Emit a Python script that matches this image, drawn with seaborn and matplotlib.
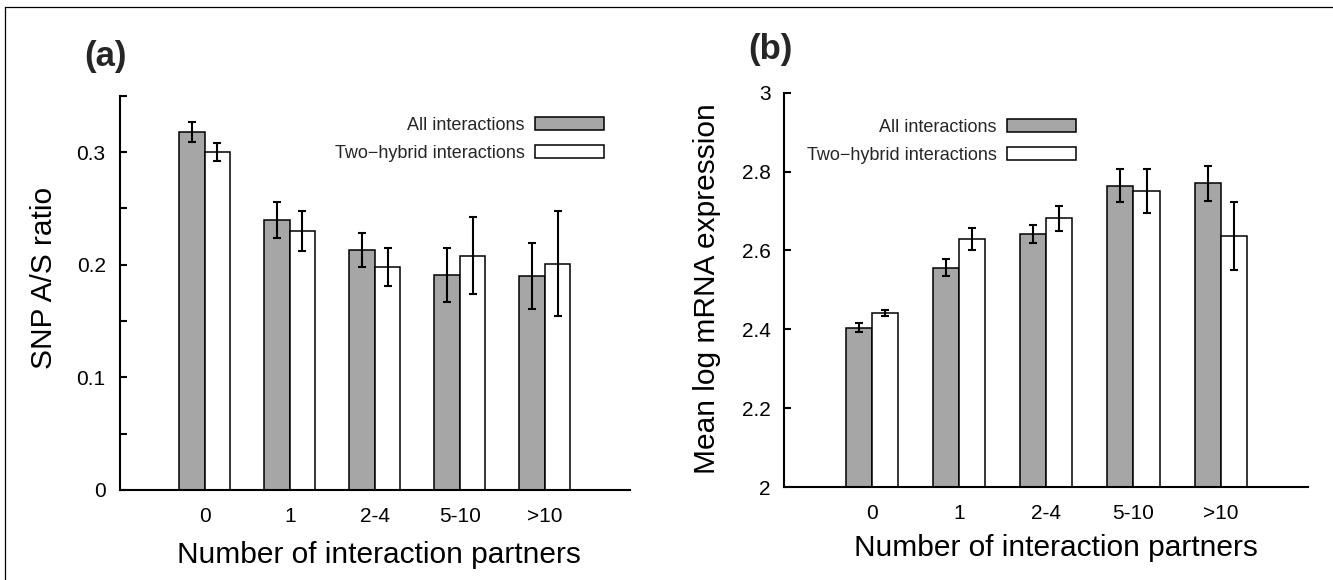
import numpy as np
import pandas as pd
import matplotlib
matplotlib.use("Agg")
import matplotlib.pyplot as plt
from matplotlib.patches import Patch
from matplotlib.lines import Line2D
from matplotlib.ticker import FixedLocator
import seaborn as sns

# ---- data -------------------------------------------------------------
partners = ["0", "1", "2-4", "5-10", ">10"]
series_names = ["All interactions", "Two\u2212hybrid interactions"]

snp_all = [0.318, 0.240, 0.213, 0.191, 0.190]
snp_all_err = [0.009, 0.016, 0.015, 0.024, 0.029]
snp_y2h = [0.300, 0.230, 0.198, 0.208, 0.201]
snp_y2h_err = [0.008, 0.018, 0.017, 0.034, 0.047]

expr_all = [2.404, 2.556, 2.641, 2.764, 2.770]
expr_all_err = [0.011, 0.022, 0.023, 0.042, 0.045]
expr_y2h = [2.442, 2.628, 2.681, 2.750, 2.637]
expr_y2h_err = [0.008, 0.028, 0.032, 0.056, 0.086]

# ---- style ------------------------------------------------------------
sns.set_theme(style="white")
plt.rcParams["font.family"] = ["Liberation Sans", "DejaVu Sans"]
plt.rcParams["axes.linewidth"] = 1.5

GREY = "#a6a6a6"
palette = {series_names[0]: GREY, series_names[1]: "white"}


def long_frame(a, b):
    return pd.DataFrame({
        "partners": partners * 2,
        "set": [series_names[0]] * len(partners) + [series_names[1]] * len(partners),
        "value": list(a) + list(b),
    })


def panel(ax, a, a_err, b, b_err, ylim, major, minor, ylabel, leg_anchor,
          xlab_pos, ylab_pos):
    df = long_frame(a, b)
    sns.barplot(data=df, x="partners", y="value", hue="set",
                hue_order=series_names, order=partners, palette=palette,
                width=0.6, gap=0, edgecolor="black", linewidth=1.1,
                errorbar=None, legend=False, ax=ax)
    # error bars placed on the bar centres seaborn computed
    for cont, vals, errs in zip(ax.containers, (a, b), (a_err, b_err)):
        xs = [r.get_x() + r.get_width() / 2 for r in cont]
        ax.errorbar(xs, vals, yerr=errs, fmt="none", ecolor="black",
                    elinewidth=1.5, capsize=2.6, capthick=1.5, zorder=5)

    ax.set_xlim(-1, 5)
    ax.set_ylim(*ylim)
    ax.yaxis.set_major_locator(FixedLocator(major))
    ax.set_yticklabels([f"{v:g}" for v in major])
    ax.yaxis.set_minor_locator(FixedLocator(minor))
    ax.tick_params(axis="y", which="both", direction="in", length=5,
                   width=1.5, left=True, labelsize=15, pad=10,
                   colors="black")
    ax.tick_params(axis="x", length=0, labelsize=15, pad=12,
                   colors="black")
    for s in ("top", "right"):
        ax.spines[s].set_visible(False)
    for s in ("left", "bottom"):
        ax.spines[s].set_color("black")
        ax.spines[s].set_linewidth(1.5)

    ax.set_xlabel("Number of interaction partners", fontsize=21.5,
                  color="black", va="top")
    ax.xaxis.set_label_coords(*xlab_pos)
    ax.set_ylabel(ylabel, fontsize=21.5, color="black", va="center")
    ax.yaxis.set_label_coords(*ylab_pos)

    handles = [Patch(facecolor=palette[n], edgecolor="black", linewidth=1.1,
                     label=n) for n in series_names]
    ax.legend(handles=handles, loc="upper right", bbox_to_anchor=leg_anchor,
              markerfirst=False, frameon=False, fontsize=13,
              handlelength=3.8, handleheight=0.75, handletextpad=0.6,
              labelspacing=0.62, borderpad=0, borderaxespad=0)


fig = plt.figure(figsize=(13.33, 5.8), dpi=100)
ax_a = fig.add_axes([0.0897, 0.1552, 0.3829, 0.680])
ax_b = fig.add_axes([0.5885, 0.1603, 0.3927, 0.680])

panel(ax_a, snp_all, snp_all_err, snp_y2h, snp_y2h_err,
      ylim=(0, 0.3501), major=[0, 0.1, 0.2, 0.3],
      minor=[0.05, 0.15, 0.25, 0.35], ylabel="SNP A/S ratio",
      leg_anchor=(0.949, 0.946), xlab_pos=(0.508, -0.13),
      ylab_pos=(-0.148, 0.537))

panel(ax_b, expr_all, expr_all_err, expr_y2h, expr_y2h_err,
      ylim=(2, 3.0001), major=[2, 2.2, 2.4, 2.6, 2.8, 3], minor=[],
      ylabel="Mean log mRNA expression",
      leg_anchor=(0.557, 0.934), xlab_pos=(0.519, -0.118),
      ylab_pos=(-0.148, 0.502))

fig.text(0.0788, 0.902, "(a)", fontsize=25, fontweight="bold",
         ha="center", va="center")
fig.text(0.578, 0.914, "(b)", fontsize=25, fontweight="bold",
         ha="center", va="center")

# thin frame along the top and left edges of the figure
fig.add_artist(Line2D([0.00375, 1.0], [0.988, 0.988], color="black",
                      linewidth=0.9, transform=fig.transFigure))
fig.add_artist(Line2D([0.00375, 0.00375], [0.0, 0.988], color="black",
                      linewidth=0.9, transform=fig.transFigure))

fig.savefig("out.png", dpi=100, facecolor="white")
